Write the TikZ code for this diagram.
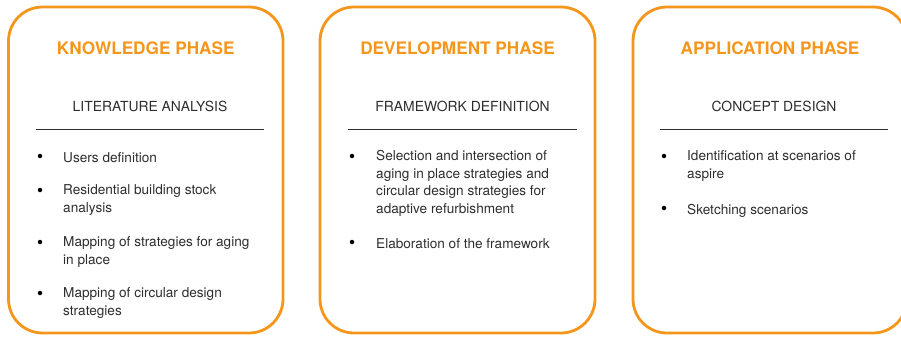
\documentclass[tikz,border=0pt]{standalone}
\usepackage{fontspec}
\setmainfont{TeX Gyre Heros}
\definecolor{phaseorange}{RGB}{245,150,28}
\definecolor{bodygray}{RGB}{45,45,45}
\tikzset{
  phasebox/.style={draw=phaseorange,line width=2.8pt,rounded corners=34pt},
  phasetitle/.style={text=phaseorange,font=\fontsize{17.2}{20}\selectfont\bfseries,anchor=base},
  stagetitle/.style={text=bodygray,font=\fontsize{13.9}{16}\selectfont,anchor=base},
  divider/.style={draw=bodygray,line width=1pt},
  itemtext/.style={text=bodygray,font=\fontsize{13.6}{17.5}\selectfont,anchor=north west,
    align=left,inner sep=0pt,execute at begin node=\strut,yshift=11.5pt},
  bulletdot/.style={circle,fill=black,inner sep=0pt,minimum size=4.5pt}
}

\begin{document}
\begin{tikzpicture}[x=1pt,y=-1pt]
\useasboundingbox (0,0) rectangle (901,338);

% knowledge phase
\draw[phasebox] (8.5,7) rectangle (283,333);
\node[phasetitle] (know) at (145.75,54) {KNOWLEDGE PHASE};
\node[stagetitle] (lit) at (150,111) {LITERATURE ANALYSIS};
\draw[divider] (36,129) coordinate (k_1) -- (264,129) coordinate (k_2);

\node[bulletdot] (kb_1) at (40,156) {};
\node[bulletdot] (kb_2) at (40,190) {};
\node[bulletdot] (kb_3) at (40,242) {};
\node[bulletdot] (kb_4) at (40,293) {};
\node[itemtext] (ki_1) at (63,162) {Users definition};
\node[itemtext] (ki_2) at (63,196) {Residential building stock\\analysis};
\node[itemtext] (ki_3) at (63,248) {Mapping of strategies for aging\\in place};
\node[itemtext] (ki_4) at (63,299) {Mapping of circular design\\strategies};

% development phase
\draw[phasebox] (320,7) rectangle (595,333);
\node[phasetitle] (dev) at (457.5,54) {DEVELOPMENT PHASE};
\node[stagetitle] (frame) at (462.5,111) {FRAMEWORK DEFINITION};
\draw[divider] (348,129) coordinate (d_1) -- (577,129) coordinate (d_2);

\node[bulletdot] (db_1) at (352,156) {};
\node[bulletdot] (db_2) at (352,242) {};
\node[itemtext] (di_1) at (376,162) {Selection and intersection of\\aging in place strategies and\\circular design strategies for\\adaptive refurbishment};
\node[itemtext] (di_2) at (376,248) {Elaboration of the framework};

% application phase
\draw[phasebox] (633,7) rectangle (907,333);
\node[phasetitle] (app) at (770,54) {APPLICATION PHASE};
\node[stagetitle] (concept) at (774,111) {CONCEPT DESIGN};
\draw[divider] (660,129) coordinate (a_1) -- (888,129) coordinate (a_2);

\node[bulletdot] (ab_1) at (664,156) {};
\node[bulletdot] (ab_2) at (664,208) {};
\node[itemtext] (ai_1) at (687,162) {Identification at scenarios of\\aspire};
\node[itemtext] (ai_2) at (687,214) {Sketching scenarios};

\end{tikzpicture}
\end{document}
